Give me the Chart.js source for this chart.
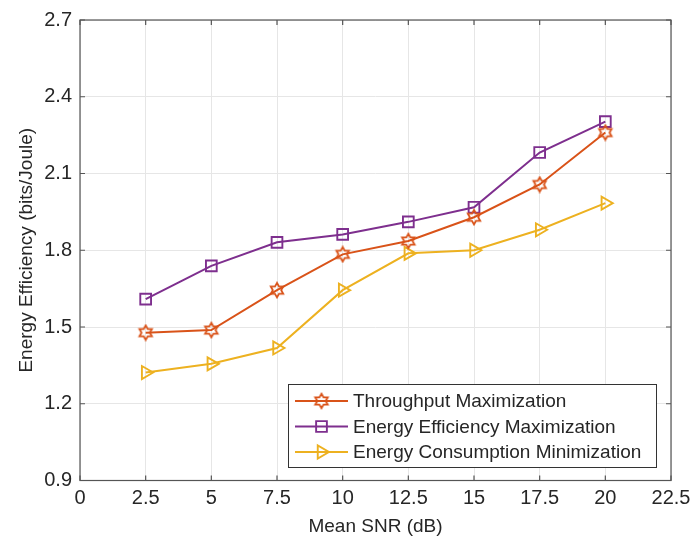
<!DOCTYPE html>
<html>
<head>
<meta charset="utf-8">
<script src="https://cdn.jsdelivr.net/npm/chart.js@4"></script>
<style>
  html, body { margin: 0; padding: 0; background: #fff; }
</style>
</head>
<body>
<canvas id="effChart" width="693" height="546"></canvas>
<script>
// data
const snrDb = [2.5, 5, 7.5, 10, 12.5, 15, 17.5, 20];
const throughputMax = [1.478, 1.488, 1.644, 1.784, 1.836, 1.929, 2.057, 2.260];
const energyEffMax = [1.609, 1.739, 1.831, 1.862, 1.911, 1.968, 2.182, 2.303];
const energyConsMin = [1.322, 1.356, 1.418, 1.644, 1.788, 1.800, 1.880, 1.984];
const seriesNames = ['Throughput Maximization', 'Energy Efficiency Maximization', 'Energy Consumption Minimization'];
const xTicks = [0, 2.5, 5, 7.5, 10, 12.5, 15, 17.5, 20, 22.5];
const yTicks = [0.9, 1.2, 1.5, 1.8, 2.1, 2.4, 2.7];

const ORANGE = '#D95319';
const PURPLE = '#7E2F8E';
const YELLOW = '#EDB120';
const FONT = '"Liberation Sans", Arial, sans-serif';
const TEXT = '#262626';
const FRAME = '#555';

// six point star (MATLAB hexagram) as a small canvas
function makeHexagram(color) {
  const c = document.createElement('canvas');
  c.width = 18; c.height = 18;
  const g = c.getContext('2d');
  const R = 7.2, r = R / Math.sqrt(3);
  g.beginPath();
  for (let i = 0; i < 12; i++) {
    const a = -Math.PI / 2 + i * Math.PI / 6;
    const rr = i % 2 === 0 ? R : r;
    const px = 9 + rr * Math.cos(a), py = 9 + rr * Math.sin(a);
    if (i === 0) g.moveTo(px, py); else g.lineTo(px, py);
  }
  g.closePath();
  g.strokeStyle = color;
  g.lineWidth = 1.8;
  g.stroke();
  return c;
}
const hexagram = makeHexagram(ORANGE);

function series(label, values, color, style, radius, rotation) {
  return {
    label: label,
    data: snrDb.map((x, i) => ({ x: x, y: values[i] })),
    borderColor: color,
    backgroundColor: 'rgba(0,0,0,0)',
    borderWidth: 2,
    pointStyle: style,
    pointRadius: radius,
    pointHoverRadius: radius,
    pointRotation: rotation,
    pointBorderColor: color,
    pointBackgroundColor: 'rgba(0,0,0,0)',
    pointBorderWidth: 1.9,
    tension: 0
  };
}

// box, inward ticks on all four sides
const framePlugin = {
  id: 'frame',
  afterDatasetsDraw(chart) {
    const { ctx, chartArea: a, scales } = chart;
    ctx.save();
    ctx.strokeStyle = FRAME;
    ctx.lineWidth = 1.2;
    ctx.beginPath();
    const t = 5;
    scales.x.ticks.forEach(tk => {
      const px = scales.x.getPixelForValue(tk.value);
      ctx.moveTo(px, a.bottom); ctx.lineTo(px, a.bottom - t);
      ctx.moveTo(px, a.top); ctx.lineTo(px, a.top + t);
    });
    scales.y.ticks.forEach(tk => {
      const py = scales.y.getPixelForValue(tk.value);
      ctx.moveTo(a.left, py); ctx.lineTo(a.left + t, py);
      ctx.moveTo(a.right, py); ctx.lineTo(a.right - t, py);
    });
    ctx.stroke();
    ctx.strokeRect(a.left, a.top, a.right - a.left, a.bottom - a.top);
    ctx.restore();
  }
};

// legend box inside the plot, lower right
const legendPlugin = {
  id: 'boxLegend',
  afterDraw(chart) {
    const ctx = chart.ctx;
    const bx = 288, by = 384, bw = 368, bh = 83;
    ctx.save();
    ctx.fillStyle = '#fff';
    ctx.fillRect(bx, by, bw, bh);
    ctx.strokeStyle = '#333';
    ctx.lineWidth = 1;
    ctx.strokeRect(bx + 0.5, by + 0.5, bw, bh);
    const rows = [401, 426.5, 452];
    chart.data.datasets.forEach((ds, i) => {
      const y = rows[i];
      ctx.strokeStyle = ds.borderColor;
      ctx.lineWidth = 2;
      ctx.beginPath();
      ctx.moveTo(295, y); ctx.lineTo(348, y);
      ctx.stroke();
      ctx.fillStyle = 'rgba(0,0,0,0)';
      ctx.lineWidth = ds.pointBorderWidth;
      Chart.helpers.drawPoint(ctx, {
        pointStyle: ds.pointStyle,
        radius: ds.pointRadius,
        rotation: ds.pointRotation,
        borderWidth: ds.pointBorderWidth
      }, 321.5, y);
      ctx.fillStyle = TEXT;
      ctx.font = '19px ' + FONT;
      ctx.textBaseline = 'middle';
      ctx.textAlign = 'left';
      ctx.fillText(ds.label, 353, y + 1);
    });
    ctx.restore();
  }
};

const ctx = document.getElementById('effChart').getContext('2d');
const effChart = new Chart(ctx, {
  type: 'line',
  data: {
    datasets: [
      series(seriesNames[0], throughputMax, ORANGE, hexagram, 7, 0),
      series(seriesNames[1], energyEffMax, PURPLE, 'rect', 7.6, 0),
      series(seriesNames[2], energyConsMin, YELLOW, 'triangle', 7.5, 90)
    ]
  },
  options: {
    responsive: false,
    animation: false,
    layout: { padding: { left: 15, right: 0, top: 18, bottom: 8 } },
    plugins: {
      legend: { display: false },
      tooltip: { enabled: false }
    },
    scales: {
      x: {
        type: 'linear',
        min: 0,
        max: 22.5,
        afterBuildTicks: s => { s.ticks = xTicks.map(v => ({ value: v })); },
        afterFit: s => { s.height = 57.5; s.paddingRight = 22; s.paddingLeft = 0; },
        grid: { color: '#e6e6e6', lineWidth: 1, drawTicks: false },
        border: { display: false },
        ticks: {
          padding: 6,
          color: TEXT,
          font: { family: FONT, size: 20 },
          maxRotation: 0,
          callback: v => String(v)
        },
        title: {
          display: true,
          text: 'Mean SNR (dB)',
          color: TEXT,
          font: { family: FONT, size: 19 },
          padding: { top: 4, bottom: 0 }
        }
      },
      y: {
        type: 'linear',
        min: 0.9,
        max: 2.7,
        afterBuildTicks: s => { s.ticks = yTicks.map(v => ({ value: v })); },
        afterFit: s => { s.width = 65; },
        grid: { color: '#e6e6e6', lineWidth: 1, drawTicks: false },
        border: { display: false },
        ticks: {
          padding: 8,
          color: TEXT,
          font: { family: FONT, size: 20 },
          callback: v => v.toFixed(1)
        },
        title: {
          display: true,
          text: 'Energy Efficiency (bits/Joule)',
          color: TEXT,
          font: { family: FONT, size: 19 },
          padding: { top: 0, bottom: 2 }
        }
      }
    }
  },
  plugins: [framePlugin, legendPlugin]
});
</script>
</body>
</html>
